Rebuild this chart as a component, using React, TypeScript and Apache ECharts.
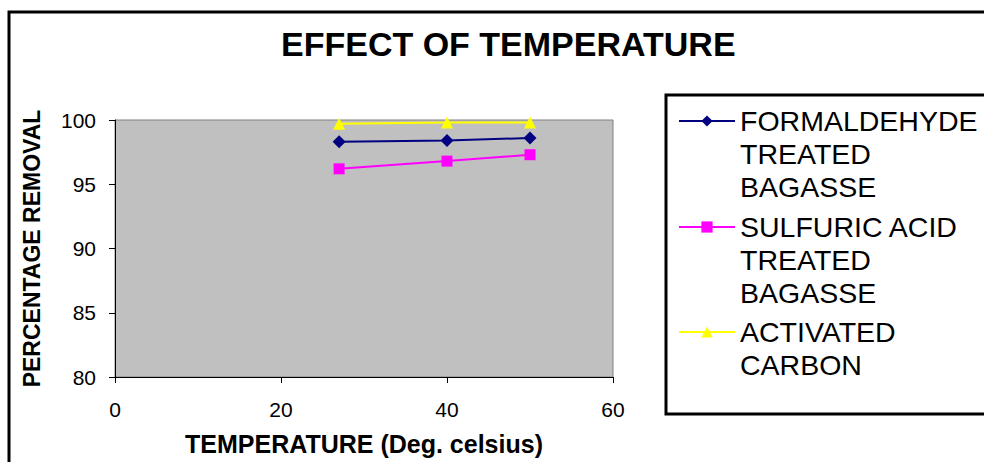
import React, { useEffect, useRef } from "react";
import * as echarts from "echarts";

const temperatures = [27, 40, 50];
const formaldehyde = [98.3, 98.4, 98.6];
const sulfuric = [96.2, 96.8, 97.3];
const activated = [99.7, 99.8, 99.8];

const seriesNames = [
  "FORMALDEHYDE\nTREATED\nBAGASSE",
  "SULFURIC ACID\nTREATED\nBAGASSE",
  "ACTIVATED\nCARBON",
];
const titleText = "EFFECT OF TEMPERATURE";
const xName = "TEMPERATURE (Deg. celsius)";
const yName = "PERCENTAGE REMOVAL";

const FONT = "'Liberation Sans', Arial, sans-serif";

export default function App() {
  const ref = useRef<HTMLDivElement>(null);
  useEffect(() => {
    if (!ref.current) return;
    const chart = echarts.init(ref.current, undefined, { renderer: "svg" });
    const pairs = (ys: number[]) => temperatures.map((t, i) => [t, ys[i]]);
    const legendBase = (name: string, top: number) => ({
      data: [name],
      orient: "vertical" as const,
      left: 678,
      top,
      padding: 0,
      itemWidth: 56,
      itemHeight: 14,
      selectedMode: false,
      formatter: (n: string) => "\n".repeat(n.split("\n").length - 1) + n,
      textStyle: {
        fontFamily: FONT,
        fontSize: 28.5,
        color: "#000",
        lineHeight: 33,
      },
    });
    chart.setOption({
      animation: false,
      backgroundColor: "#fff",
      title: {
        text: titleText,
        left: 281,
        top: 27,
        padding: 0,
        textStyle: { fontFamily: FONT, fontSize: 34, fontWeight: "bold", color: "#000" },
      },
      graphic: [
        {
          type: "rect",
          shape: { x: 9, y: 12, width: 1100, height: 600 },
          style: { fill: "none", stroke: "#000", lineWidth: 3 },
          silent: true,
          z: 10,
        },
        {
          type: "rect",
          shape: { x: 666, y: 95, width: 400, height: 319 },
          style: { fill: "none", stroke: "#000", lineWidth: 3 },
          silent: true,
          z: 10,
        },
      ],
      legend: [
        legendBase(seriesNames[0], 38.5),
        legendBase(seriesNames[1], 144.5),
        legendBase(seriesNames[2], 282.5),
      ],
      grid: {
        left: 115,
        right: 371,
        top: 120,
        bottom: 85,
        show: true,
        backgroundColor: "#C0C0C0",
        borderColor: "#808080",
        borderWidth: 1,
      },
      xAxis: {
        type: "value",
        min: 0,
        max: 60,
        interval: 20,
        name: xName,
        nameLocation: "middle",
        nameGap: 54,
        nameTextStyle: { fontFamily: FONT, fontSize: 25, fontWeight: "bold", color: "#000" },
        axisLine: { show: true, lineStyle: { color: "#000", width: 1 } },
        axisTick: { show: true, length: 6, lineStyle: { color: "#000" } },
        axisLabel: { fontFamily: FONT, fontSize: 21, color: "#000", margin: 22 },
        splitLine: { show: false },
      },
      yAxis: {
        type: "value",
        min: 80,
        max: 100,
        interval: 5,
        name: yName,
        nameLocation: "middle",
        nameGap: 72,
        nameRotate: 90,
        nameTextStyle: { fontFamily: FONT, fontSize: 23, fontWeight: "bold", color: "#000" },
        axisLine: { show: true, lineStyle: { color: "#000", width: 1 } },
        axisTick: { show: true, length: 6, lineStyle: { color: "#000" } },
        axisLabel: { fontFamily: FONT, fontSize: 21, color: "#000", margin: 19 },
        splitLine: { show: false },
      },
      series: [
        {
          name: seriesNames[0],
          type: "line",
          data: pairs(formaldehyde),
          symbol: "diamond",
          symbolSize: 13,
          lineStyle: { color: "#000080", width: 2 },
          itemStyle: { color: "#000080" },
        },
        {
          name: seriesNames[1],
          type: "line",
          data: pairs(sulfuric),
          symbol: "rect",
          symbolSize: 11,
          lineStyle: { color: "#FF00FF", width: 2 },
          itemStyle: { color: "#FF00FF" },
        },
        {
          name: seriesNames[2],
          type: "line",
          data: pairs(activated),
          symbol: "triangle",
          symbolSize: 12,
          lineStyle: { color: "#FFFF00", width: 2 },
          itemStyle: { color: "#FFFF00" },
        },
      ],
    });
    return () => chart.dispose();
  }, []);
  return (
    <div
      ref={ref}
      style={{ position: "fixed", left: 0, top: 0, width: 984, height: 462 }}
    />
  );
}
